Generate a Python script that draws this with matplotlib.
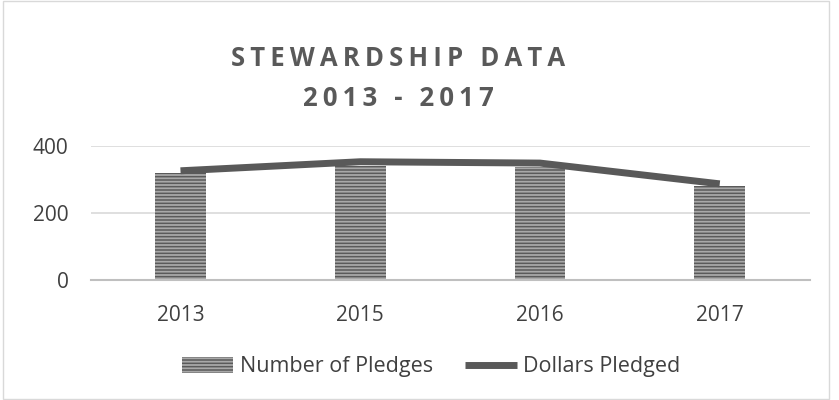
import matplotlib
matplotlib.use('Agg')
import matplotlib.pyplot as plt
import numpy as np
from matplotlib.patches import Rectangle

years = ["2013", "2015", "2016", "2017"]
pledges = [320, 340, 337, 280]
dollars = [326, 353, 349, 287]
yticks = [0, 200, 400]

plt.rcParams['font.family'] = ['Open Sans', 'DejaVu Sans']
plt.rcParams['hatch.color'] = '#a8a8a8'
plt.rcParams['hatch.linewidth'] = 1.3

fig = plt.figure(figsize=(8.39, 4.0), dpi=100)
ax = fig.add_axes([0.108, 0.3, 0.857, 0.335])

x = np.arange(len(years))
bars = ax.bar(x, pledges, width=0.283, color='#5a5a5a', hatch='-----',
              edgecolor='#a8a8a8', linewidth=0, label='Number of Pledges', zorder=2)
line, = ax.plot(x, dollars, color='#595959', linewidth=5, solid_capstyle='butt',
                label='Dollars Pledged', zorder=3)

ax.set_xlim(-0.5, len(years) - 0.5)
ax.set_ylim(0, 400)
ax.set_xticks(x)
ax.set_xticklabels(years)
ax.set_yticks(yticks)
ax.tick_params(length=0, labelsize=15, labelcolor='#404040')
ax.tick_params(axis='x', pad=18)
ax.tick_params(axis='y', pad=16)
ax.grid(axis='y', color='#d9d9d9', linewidth=1.2, zorder=0)
for s in ['top', 'right', 'left']:
    ax.spines[s].set_visible(False)
ax.spines['bottom'].set_color('#bfbfbf')
ax.spines['bottom'].set_linewidth(1.5)

hs = '\u2009'
t1 = hs.join("STEWARDSHIP DATA")
t2 = hs.join("2013 - 2017")
fig.text(0.475, 0.855, t1, ha='center', va='center', fontsize=18.5, fontweight='bold',
         color='#595959')
fig.text(0.475, 0.755, t2, ha='center', va='center', fontsize=18.5, fontweight='bold',
         color='#595959')

leg = fig.legend([bars, line], ['Number of Pledges', 'Dollars Pledged'],
                 loc='center', bbox_to_anchor=(0.514, 0.083), ncol=2, frameon=False,
                 fontsize=15.5, handlelength=2.4, handleheight=0.75, columnspacing=1.5,
                 handletextpad=0.3)
for t in leg.get_texts():
    t.set_color('#404040')

fig.patches.append(Rectangle((0.003, 0.003), 0.985, 0.994, transform=fig.transFigure,
                             fill=False, edgecolor='#d9d9d9', linewidth=1))

fig.savefig('out.png', dpi=100)
